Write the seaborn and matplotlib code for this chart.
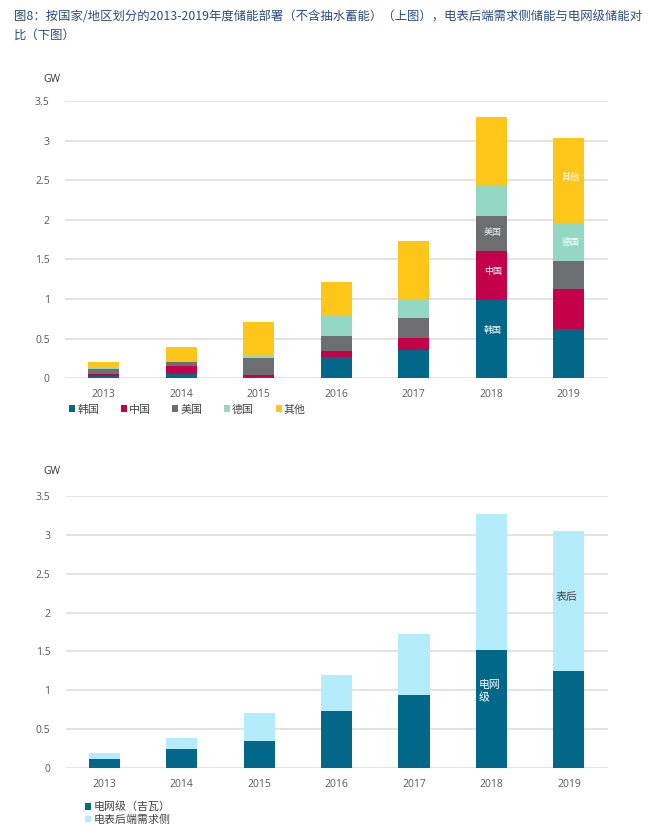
import matplotlib.pyplot as plt
import seaborn as sns
import numpy as np
from matplotlib.patches import Patch

# values (GW)
years = ["2013", "2014", "2015", "2016", "2017", "2018", "2019"]
korea = [0.03, 0.06, 0.012, 0.265, 0.353, 0.989, 0.618]
china = [0.03, 0.09, 0.03, 0.084, 0.156, 0.618, 0.513]
usa = [0.055, 0.05, 0.22, 0.185, 0.252, 0.437, 0.349]
germany = [0.01, 0.017, 0.017, 0.257, 0.227, 0.379, 0.475]
others = [0.08, 0.177, 0.425, 0.42, 0.749, 0.875, 1.081]

grid_scale = [0.115, 0.244, 0.355, 0.74, 0.937, 1.515, 1.25]
behind_meter = [0.078, 0.145, 0.351, 0.46, 0.783, 1.755, 1.80]

country_names = ["韩国", "中国", "美国", "德国", "其他"]
country_colors = ["#03678A", "#C4004A", "#6C6E70", "#93D8C2", "#FFC61A"]
bottom_names = ["电网级（吉瓦）", "电表后端需求侧"]
bottom_colors = ["#03678A", "#B5ECFB"]

title = ("图8：按国家/地区划分的2013-2019年度储能部署（不含抽水蓄能）（上图），电表后端需求侧储能与电网级储能对\n"
         "比（下图）")

sns.set_style("white")
plt.rcParams['font.family'] = ['Open Sans', 'Noto Sans CJK SC', 'DejaVu Sans']

fig = plt.figure(figsize=(6.56, 8.38), dpi=100)
ax1 = fig.add_axes([0.0991, 0.5486, 0.827, 0.3309])
ax2 = fig.add_axes([0.1001, 0.0832, 0.826, 0.3253])


def stacked(ax, series, colors):
    cum = np.cumsum(np.array(series), axis=0)
    # draw tallest first so lower segments sit on top
    for i in range(len(series) - 1, -1, -1):
        sns.barplot(x=years, y=cum[i], color=colors[i], width=0.405,
                    errorbar=None, linewidth=0, saturation=1, ax=ax, zorder=3)


def style(ax):
    ax.set_ylim(0, 3.5)
    ax.set_xlim(-0.5, 6.5)
    ax.set_yticks([0, 0.5, 1, 1.5, 2, 2.5, 3, 3.5])
    ax.set_yticklabels(["0", "0.5", "1", "1.5", "2", "2.5", "3", "3.5"])
    ax.yaxis.grid(True, color="#DEDEDE", linewidth=1.2, zorder=0)
    ax.xaxis.grid(False)
    for s in ax.spines.values():
        s.set_visible(False)
    ax.tick_params(axis="y", length=0, pad=11, labelsize=7.5, labelcolor="#595959")
    ax.tick_params(axis="x", length=0, pad=8, labelsize=7.5, labelcolor="#595959")
    ax.set_xlabel("")
    ax.set_ylabel("")
    ax.set_axisbelow(True)


stacked(ax1, [korea, china, usa, germany, others], country_colors)
style(ax1)
stacked(ax2, [grid_scale, behind_meter], bottom_colors)
style(ax2)

# in-bar labels
lab = dict(fontsize=6.5, ha="center", va="center", zorder=5)
ax1.text(5.02, 0.60, "韩国", color="white", **lab)
ax1.text(5.02, 1.346, "中国", color="white", **lab)
ax1.text(5.02, 1.835, "美国", color="#EEEEEE", **lab)
ax1.text(6.02, 1.72, "德国", color="white", **lab)
ax1.text(6.02, 2.54, "其他", color="white", **lab)

ax2.text(4.84, 0.98, "电网\n级", color="white", fontsize=7.8, ha="left",
         va="center", linespacing=1.25, zorder=5)
ax2.text(5.97, 2.19, "表后", color="#444444", fontsize=7.8, ha="center",
         va="center", zorder=5)

# unit labels
fig.text(52 / 656, 1 - 80 / 838, "GW", fontsize=7.5, color="#333333", ha="center", va="center")
fig.text(52 / 656, 1 - 471 / 838, "GW", fontsize=7.5, color="#333333", ha="center", va="center")

# legends
h1 = [Patch(facecolor=c, edgecolor="none") for c in country_colors]
fig.legend(h1, country_names, loc="center left", bbox_to_anchor=(69 / 656, 1 - 410 / 838),
           ncol=5, frameon=False, fontsize=7.9, handlelength=0.55, handleheight=0.55,
           handletextpad=0.2, columnspacing=1.95, borderaxespad=0, borderpad=0,
           labelcolor="#444444")

h2 = [Patch(facecolor=c, edgecolor="none") for c in bottom_colors]
fig.legend(h2, bottom_names, loc="center left", bbox_to_anchor=(85 / 656, 1 - 814 / 838),
           ncol=1, frameon=False, fontsize=7.9, handlelength=0.55, handleheight=0.55,
           handletextpad=0.2, labelspacing=0.15, borderaxespad=0, borderpad=0,
           labelcolor="#444444")

# caption
fig.text(14 / 656, 1 - 10 / 838, title, fontsize=8.9, color="#2A4C7D",
         ha="left", va="top", linespacing=1.55, family=["Noto Sans CJK SC", "DejaVu Sans"])

plt.savefig("out.png", dpi=100)
